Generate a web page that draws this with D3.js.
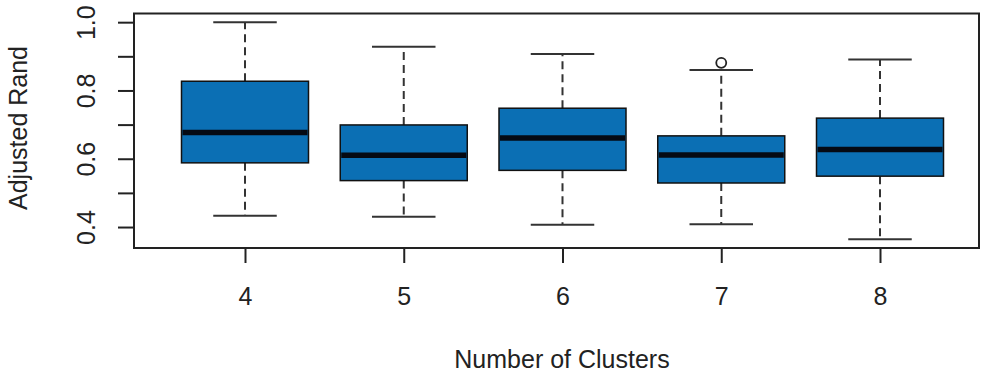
<!DOCTYPE html>
<html>
<head>
<meta charset="utf-8">
<script src="https://cdn.jsdelivr.net/npm/d3@7"></script>
<style>
  html, body { margin: 0; padding: 0; background: #fff; }
  svg { display: block; }
  text { font-family: "Liberation Sans", Arial, sans-serif; fill: #222; }
</style>
</head>
<body>
<svg id="chart" width="982" height="377"></svg>
<script>
// Adjusted Rand index by number of clusters
const categories   = ["4", "5", "6", "7", "8"];
const lowerWhisker = [0.433, 0.430, 0.407, 0.408, 0.364];
const q1           = [0.588, 0.536, 0.566, 0.529, 0.549];
const median       = [0.677, 0.610, 0.661, 0.611, 0.627];
const q3           = [0.827, 0.699, 0.748, 0.667, 0.719];
const upperWhisker = [1.000, 0.928, 0.907, 0.860, 0.891];
const outlierCats   = ["7"];
const outlierValues = [0.881];

const yTicks  = [0.4, 0.5, 0.6, 0.7, 0.8, 0.9, 1.0];
const yLabels = ["0.4", "0.6", "0.8", "1.0"];

const xTitle = "Number of Clusters";
const yTitle = "Adjusted Rand";

const svg = d3.select("#chart");

const plot = { left: 134, right: 979, top: 13.5, bottom: 248 };

const x = d3.scalePoint().domain(categories).range([245, 880]);
const boxW = x.step() * 0.8;
const capW = boxW / 2;

const y = d3.scaleLinear()
  .domain([0.3386, 1.0254])
  .range([plot.bottom, plot.top]);

const fill = "#0b6fb4";
const fontSize = 25;

const boxes = categories.map((c, i) => ({
  cat: c, lo: lowerWhisker[i], q1: q1[i], med: median[i], q3: q3[i], hi: upperWhisker[i]
}));

const g = svg.append("g");

// whiskers (dashed)
g.selectAll("line.whisker-up").data(boxes).join("line")
  .attr("x1", d => x(d.cat)).attr("x2", d => x(d.cat))
  .attr("y1", d => y(d.q3)).attr("y2", d => y(d.hi))
  .attr("stroke", "#333").attr("stroke-width", 2).attr("stroke-dasharray", "8,5");
g.selectAll("line.whisker-down").data(boxes).join("line")
  .attr("x1", d => x(d.cat)).attr("x2", d => x(d.cat))
  .attr("y1", d => y(d.q1)).attr("y2", d => y(d.lo))
  .attr("stroke", "#333").attr("stroke-width", 2).attr("stroke-dasharray", "8,5");

// whisker caps
["hi", "lo"].forEach(k => {
  g.selectAll(null).data(boxes).join("line")
    .attr("x1", d => x(d.cat) - capW / 2).attr("x2", d => x(d.cat) + capW / 2)
    .attr("y1", d => y(d[k])).attr("y2", d => y(d[k]))
    .attr("stroke", "#333").attr("stroke-width", 2);
});

// boxes
g.selectAll(null).data(boxes).join("rect")
  .attr("x", d => x(d.cat) - boxW / 2)
  .attr("width", boxW)
  .attr("y", d => y(d.q3))
  .attr("height", d => y(d.q1) - y(d.q3))
  .attr("fill", fill)
  .attr("stroke", "#111").attr("stroke-width", 1.5);

// medians
g.selectAll(null).data(boxes).join("line")
  .attr("x1", d => x(d.cat) - boxW / 2 + 1).attr("x2", d => x(d.cat) + boxW / 2 - 1)
  .attr("y1", d => y(d.med)).attr("y2", d => y(d.med))
  .attr("stroke", "#050a14").attr("stroke-width", 5.5);

// outliers
g.selectAll(null).data(outlierCats.map((c, i) => ({ cat: c, v: outlierValues[i] }))).join("circle")
  .attr("cx", d => x(d.cat)).attr("cy", d => y(d.v)).attr("r", 5)
  .attr("fill", "#fff").attr("stroke", "#222").attr("stroke-width", 1.8);

// frame
svg.append("rect")
  .attr("x", plot.left).attr("y", plot.top)
  .attr("width", plot.right - plot.left).attr("height", plot.bottom - plot.top)
  .attr("fill", "none").attr("stroke", "#222").attr("stroke-width", 2);

// x axis
const xAxis = d3.axisBottom(x).tickSize(15).tickSizeOuter(0).tickPadding(0).tickFormat(d => d);
const gx = svg.append("g").attr("transform", `translate(0,${plot.bottom})`).call(xAxis);
gx.select(".domain").remove();
gx.selectAll(".tick line").attr("stroke", "#222").attr("stroke-width", 2);
gx.selectAll(".tick text")
  .attr("y", 57).attr("dy", null)
  .style("font-size", fontSize + "px")
  .style("font-family", "'Liberation Sans', Arial, sans-serif")
  .attr("fill", "#222");

// y axis
const yAxis = d3.axisLeft(y).tickValues(yTicks).tickSize(16).tickSizeOuter(0)
  .tickFormat(d => { const s = d3.format(".1f")(d); return yLabels.includes(s) ? s : ""; });
const gy = svg.append("g").attr("transform", `translate(${plot.left},0)`).call(yAxis);
gy.select(".domain").remove();
gy.selectAll(".tick line").attr("stroke", "#222").attr("stroke-width", 2);
gy.selectAll(".tick text")
  .attr("x", null).attr("dy", null)
  .attr("text-anchor", "middle")
  .attr("transform", "translate(-39,0) rotate(-90)")
  .style("font-size", fontSize + "px")
  .style("font-family", "'Liberation Sans', Arial, sans-serif")
  .attr("fill", "#222");

// axis titles
svg.append("text")
  .attr("x", 562).attr("y", 368)
  .attr("text-anchor", "middle")
  .style("font-size", fontSize + "px")
  .text(xTitle);

svg.append("text")
  .attr("transform", "translate(27,128) rotate(-90)")
  .attr("text-anchor", "middle")
  .style("font-size", fontSize + "px")
  .text(yTitle);
</script>
</body>
</html>
